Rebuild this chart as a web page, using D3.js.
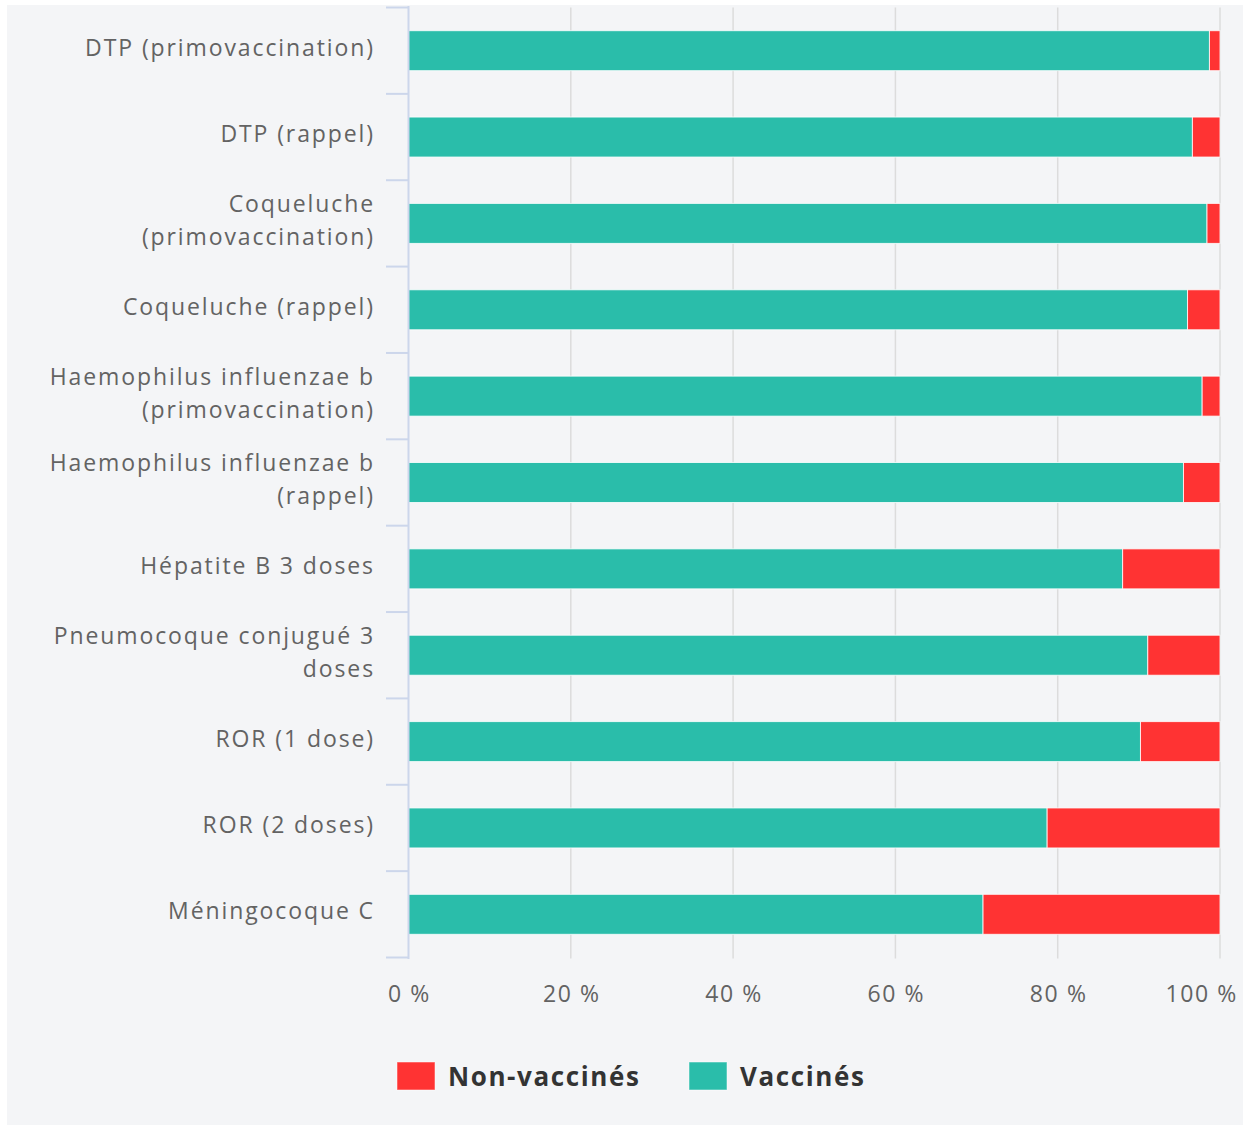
<!DOCTYPE html>
<html>
<head>
<meta charset="utf-8">
<script src="https://cdn.jsdelivr.net/npm/d3@7"></script>
<style>
  body { margin: 0; background: #fff; }
  svg { display: block; font-family: "Open Sans", sans-serif; }
</style>
</head>
<body>
<svg id="chart"></svg>
<script>
// données
const categories = [
  "DTP (primovaccination)",
  "DTP (rappel)",
  "Coqueluche (primovaccination)",
  "Coqueluche (rappel)",
  "Haemophilus influenzae b (primovaccination)",
  "Haemophilus influenzae b (rappel)",
  "Hépatite B 3 doses",
  "Pneumocoque conjugué 3 doses",
  "ROR (1 dose)",
  "ROR (2 doses)",
  "Méningocoque C"
];
const vaccines = [98.7, 96.6, 98.4, 96.0, 97.8, 95.5, 88.0, 91.1, 90.2, 78.7, 70.8];
const nonVaccines = [1.3, 3.4, 1.6, 4.0, 2.2, 4.5, 12.0, 8.9, 9.8, 21.3, 29.2];
const xTicks = [0, 20, 40, 60, 80, 100];
const seriesNames = ["Non-vaccinés", "Vaccinés"];
const colors = ["#ff3333", "#2abdaa"];

const width = 1243, height = 1126;
const plot = { left: 408.5, right: 1220, top: 7.5, bottom: 957.5 };

const svg = d3.select("#chart")
  .attr("width", width)
  .attr("height", height);

// fond
svg.append("rect")
  .attr("x", 7).attr("y", 5)
  .attr("width", width - 7).attr("height", 1120)
  .attr("fill", "#f4f5f7");

const x = d3.scaleLinear().domain([0, 100]).range([plot.left, plot.right]);
const y = d3.scaleBand().domain(categories)
  .range([plot.top, plot.bottom])
  .paddingInner(0.537)
  .paddingOuter(0.2685);

// grille verticale
svg.append("g")
  .selectAll("line")
  .data(xTicks.slice(1))
  .join("line")
  .attr("x1", d => x(d)).attr("x2", d => x(d))
  .attr("y1", plot.top).attr("y2", plot.bottom + 1)
  .attr("stroke", "#dcdcdc")
  .attr("stroke-width", 1.5);

// barres empilées
const rows = categories.map((c, i) => ({ cat: c, v: vaccines[i], n: nonVaccines[i] }));
const stack = d3.stack().keys(["v", "n"])(rows);

svg.append("g")
  .selectAll("g")
  .data(stack)
  .join("g")
  .attr("fill", (d, i) => colors[1 - i])
  .selectAll("rect")
  .data(d => d)
  .join("rect")
  .attr("x", d => x(d[0]))
  .attr("y", d => y(d.data.cat))
  .attr("width", d => x(d[1]) - x(d[0]))
  .attr("height", y.bandwidth())
  .attr("stroke", "#ffffff")
  .attr("stroke-opacity", 0.8)
  .attr("stroke-width", 1);

// axe des catégories
const axisColor = "#ccd6eb";
svg.append("line")
  .attr("x1", plot.left).attr("x2", plot.left)
  .attr("y1", plot.top - 1.5).attr("y2", plot.bottom + 1.5)
  .attr("stroke", axisColor).attr("stroke-width", 2);

const bounds = categories.map(c => y(c) - y.step() * y.paddingInner() / 2);
bounds.push(plot.bottom);
svg.append("g")
  .selectAll("line")
  .data(bounds)
  .join("line")
  .attr("x1", 386).attr("x2", plot.left)
  .attr("y1", d => d).attr("y2", d => d)
  .attr("stroke", axisColor).attr("stroke-width", 2);

// libellés des catégories (retour à la ligne)
const labelG = svg.append("g")
  .attr("font-size", 23)
  .attr("letter-spacing", 1.9)
  .attr("fill", "#636363")
  .attr("text-anchor", "end");

categories.forEach(c => {
  const t = labelG.append("text").attr("x", 375);
  const words = c.split(" ");
  let lines = [], cur = "";
  const probe = labelG.append("text").attr("visibility", "hidden");
  words.forEach(w => {
    const test = cur ? cur + " " + w : w;
    probe.text(test);
    if (probe.node().getComputedTextLength() > 345 && cur) {
      lines.push(cur);
      cur = w;
    } else {
      cur = test;
    }
  });
  lines.push(cur);
  probe.remove();
  const lh = 33;
  const cy = y(c) + y.bandwidth() / 2 - 3;
  lines.forEach((l, k) => {
    t.append("tspan")
      .attr("x", 375)
      .attr("y", cy - (lines.length - 1) * lh / 2 + k * lh)
      .attr("dy", "0.35em")
      .text(l);
  });
});

// axe des valeurs
svg.append("g")
  .attr("font-size", 23)
  .attr("letter-spacing", 1.6)
  .attr("fill", "#636363")
  .selectAll("text")
  .data(xTicks)
  .join("text")
  .attr("x", d => d === 100 ? 1238 : x(d) + 1)
  .attr("y", 1002)
  .attr("text-anchor", d => d === 100 ? "end" : "middle")
  .text(d => d + " %");

// légende
const legend = svg.append("g")
  .attr("font-size", 26)
  .attr("font-weight", "bold")
  .attr("letter-spacing", 1.6)
  .attr("fill", "#333333");

const legendX = [397, 689];
seriesNames.forEach((s, i) => {
  legend.append("rect")
    .attr("x", legendX[i]).attr("y", 1062)
    .attr("width", 38).attr("height", 28)
    .attr("fill", colors[i])
    .attr("stroke", "#ffffff").attr("stroke-opacity", 0.5);
  legend.append("text")
    .attr("x", legendX[i] + 51)
    .attr("y", 1086)
    .text(s);
});
</script>
</body>
</html>
